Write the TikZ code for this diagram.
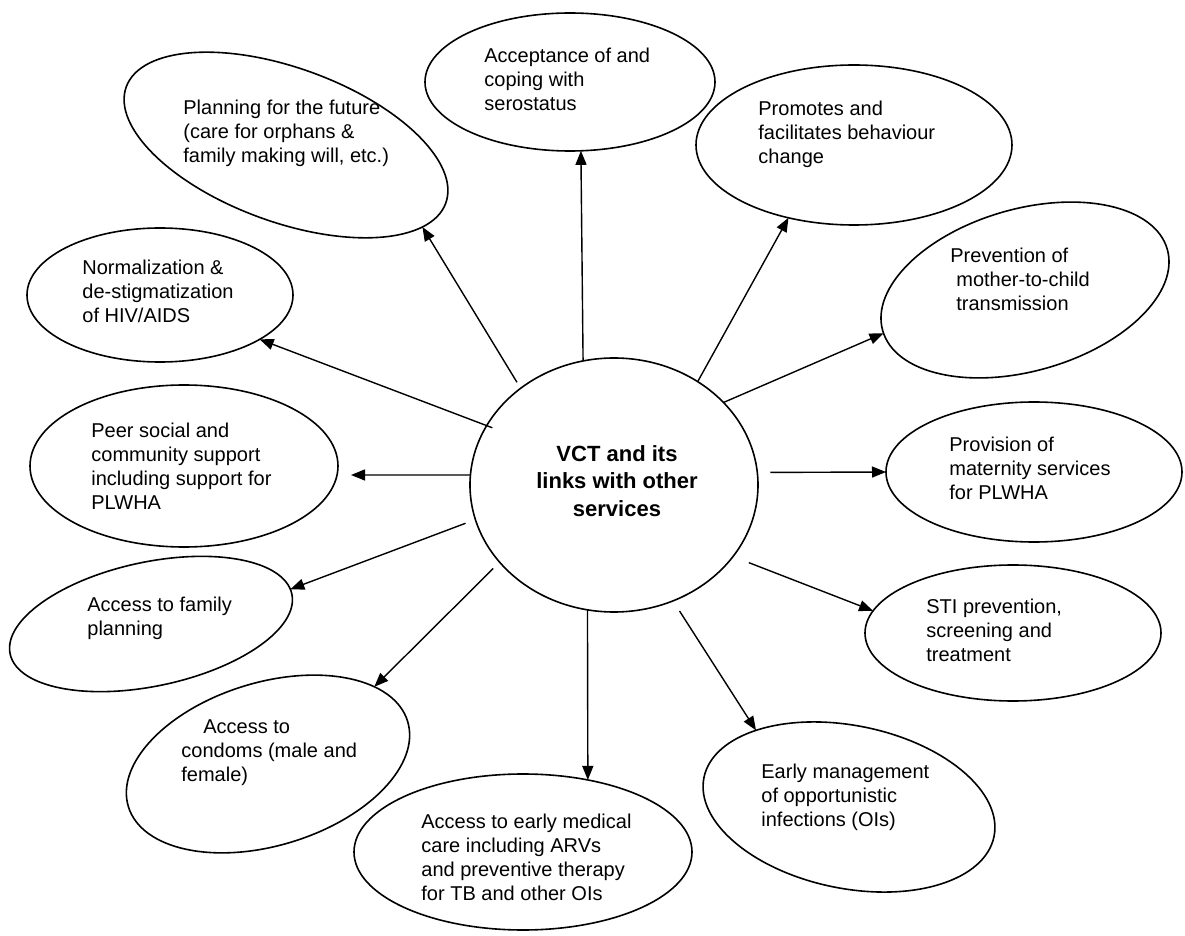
\documentclass[tikz,border=0pt]{standalone}
\usepackage{fontspec}
\setmainfont{Liberation Sans}
\usetikzlibrary{shapes.geometric,arrows.meta}
\tikzset{
  ell/.style={ellipse, draw, line width=0.8pt, inner sep=0pt, outer sep=0pt},
  lbl/.style={anchor=west, align=left, inner sep=0pt, font=\fontsize{10}{12}\selectfont},
  arr/.style={-{Triangle[length=7pt,width=5.5pt]}, line width=0.7pt}
}
\begin{document}
\begin{tikzpicture}[x=0.5pt,y=-0.5pt]
\useasboundingbox (0,0) rectangle (1185,936);
% ellipses
\node[ell, minimum width=144pt, minimum height=127pt] (vct) at (614,485) {};
\node[ell, minimum width=145pt, minimum height=69pt] (acc) at (570,82) {};
\node[ell, rotate=-20, minimum width=170pt, minimum height=77pt] (pla) at (286,145) {};
\node[ell, minimum width=158pt, minimum height=80pt] (pro) at (854,145) {};
\node[ell, rotate=16, minimum width=148pt, minimum height=81pt] (prev) at (1025,290) {};
\node[ell, minimum width=133pt, minimum height=67pt] (nor) at (160,295) {};
\node[ell, minimum width=154pt, minimum height=81pt] (peer) at (184,466) {};
\node[ell, minimum width=148pt, minimum height=70pt] (prov) at (1034,472) {};
\node[ell, rotate=12, minimum width=144pt, minimum height=62pt] (fam) at (151,624) {};
\node[ell, minimum width=148pt, minimum height=68pt] (sti) at (1013,633) {};
\node[ell, rotate=17, minimum width=146pt, minimum height=81.5pt] (cond) at (268,764) {};
\node[ell, minimum width=169pt, minimum height=78pt] (med) at (523,852) {};
\node[ell, rotate=-11.5, minimum width=148pt, minimum height=81.4pt] (em) at (849,807) {};
% labels
\node[align=center, inner sep=0pt, font=\bfseries\fontsize{11}{13.75}\selectfont] (vct-t) at (617,481) {VCT and its\\links with other\\services};
\node[lbl] (acc-t) at (484,79) {Acceptance of and\\coping with\\serostatus};
\node[lbl] (pla-t) at (183,133) {Planning for the future\\(care for orphans \&\\family making will, etc.)};
\node[lbl] (pro-t) at (758,134) {Promotes and\\facilitates behaviour\\change};
\node[lbl] (prev-t) at (950,279) {Prevention of\\\hspace*{3pt}mother-to-child\\\hspace*{3pt}transmission};
\node[lbl] (nor-t) at (82,291) {Normalization \&\\de-stigmatization\\of HIV/AIDS};
\node[lbl] (peer-t) at (91,466) {Peer social and\\community support\\including support for\\PLWHA};
\node[lbl] (prov-t) at (949,468) {Provision of\\maternity services\\for PLWHA};
\node[lbl] (fam-t) at (87,618) {Access to family\\planning};
\node[lbl] (sti-t) at (926,630) {STI prevention,\\screening and\\treatment};
\node[lbl] (cond-t) at (181,753) {\hspace*{11pt}Access to\\condoms (male and\\female)};
\node[lbl] (med-t) at (421,857) {Access to early medical\\care including ARVs\\and preventive therapy\\for TB and other OIs};
\node[lbl] (em-t) at (761,797) {Early management\\of opportunistic\\infections (OIs)};
% arrows
\coordinate (peertip) at (351,475);
\draw[arr] (vct.104) -- (acc.279);
\draw[arr, shorten <=3.5pt] (vct.134) -- (pla.349);
\draw[arr] (vct.51) -- (pro.228);
\draw[arr] (vct.37) -- (prev.181);
\draw[arr, shorten <=-3pt] (vct.155) -- (nor.336);
\draw[arr] (vct.176) -- (peertip);
\draw[arr, shorten <=6.5pt] (vct.5) -- (prov.180);
\draw[arr, shorten <=5.3pt] (vct.194) -- (fam.2);
\draw[arr, shorten <=8.5pt] (vct.329) -- (sti.171);
\draw[arr, shorten <=4.5pt] (vct.214) -- (cond.19);
\draw[arr] (vct.258) -- (med.48);
\draw[arr, shorten <=6pt] (vct.297) -- (em.152);
\end{tikzpicture}
\end{document}
